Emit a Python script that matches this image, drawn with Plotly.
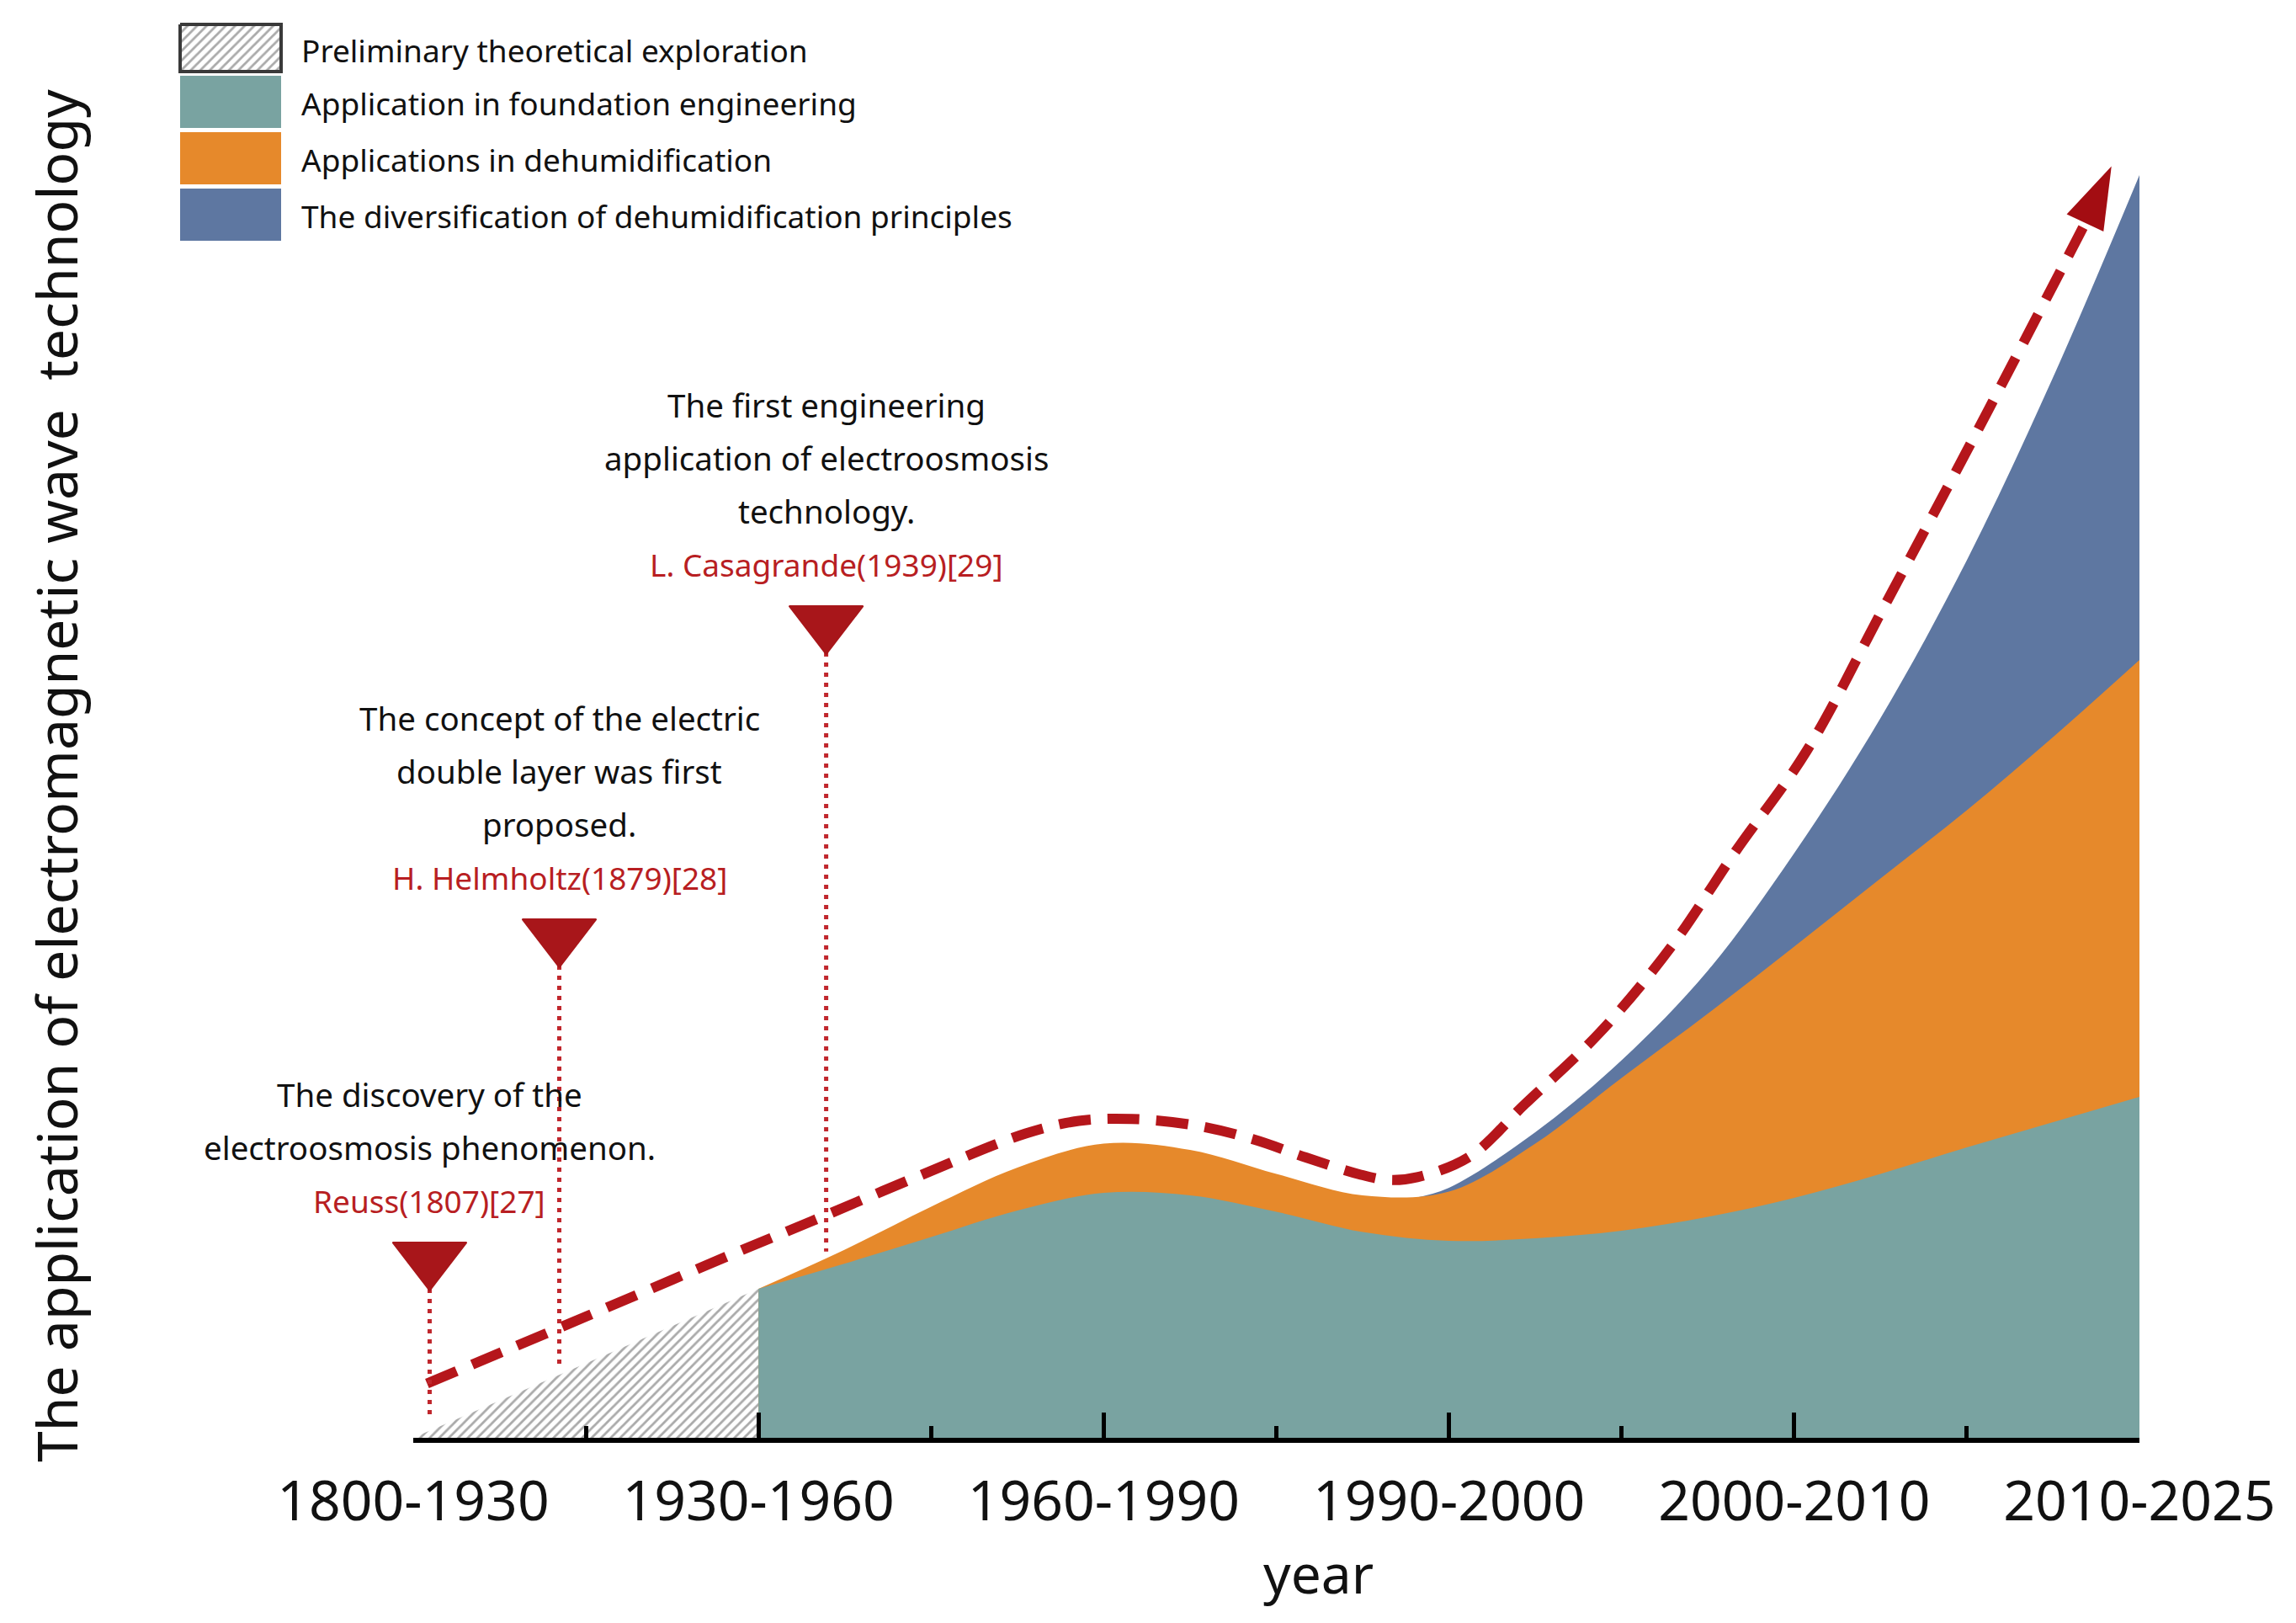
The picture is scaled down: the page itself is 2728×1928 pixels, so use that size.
import plotly.graph_objects as go

W, H = 2728, 1928
OFF = 8                      # browser body margin
FW, FH = W - 2 * OFF, H - 2 * OFF - 2

# ---------------- data ----------------
periods = ["1800-1930", "1930-1960", "1960-1990", "1990-2000", "2000-2010", "2010-2025"]
period_pos = [0, 1, 2, 3, 4, 5]
minor_pos = [0.5, 1.5, 2.5, 3.5, 4.5]

explore_x = [0.0, 1.0]
explore_top = [0.0, 11.8]

layer_x = [1.0, 1.25, 1.5, 1.75, 2.0, 2.25, 2.5, 2.75, 3.0, 3.25, 3.5, 3.75, 4.0, 4.25, 4.5, 4.75, 5.0]
foundation_top = [11.8, 13.8, 15.9, 18.0, 19.4, 19.2, 17.9, 16.3, 15.6, 15.8, 16.4, 17.5, 19.0, 20.9, 23.0, 25.0, 27.0]
dehum_top = [11.8, 14.9, 18.3, 21.4, 23.3, 22.8, 20.9, 19.2, 19.5, 23.3, 28.5, 33.6, 38.9, 44.3, 49.7, 55.5, 61.6]

divers_x = [2.9, 3.0, 3.25, 3.5, 3.75, 4.0, 4.25, 4.5, 4.75, 5.0]
divers_top = [19.0, 19.8, 24.2, 29.9, 37.0, 46.3, 57.0, 69.5, 84.0, 100.0]

trend_x = [0.04, 0.5, 0.962, 1.158, 1.466, 1.774, 1.928, 2.082, 2.264, 2.432, 2.586, 2.74, 2.824,
           2.908, 3.062, 3.219, 3.437, 3.644, 3.829, 4.036, 4.258, 4.569, 4.843]
trend_y = [4.3, 9.6, 14.98, 17.2, 20.75, 24.1, 25.1, 25.25, 24.75, 23.65, 22.2, 20.87, 20.42,
           20.64, 22.31, 26.4, 32.1, 38.9, 46.4, 54.4, 65.7, 81.75, 96.2]
arrow_tip_x = [4.919]
arrow_tip_y = [100.7]

event_x = [0.0475, 0.423, 1.196]
event_marker_y = [14.2, 39.8, 64.6]
event_stem_end = [1.4, 5.7, 14.75]
event_desc = [
    ["The discovery of the", "electroosmosis phenomenon."],
    ["The concept of the electric", "double layer was first", "proposed."],
    ["The first engineering", "application of electroosmosis", "technology."],
]
event_ref = ["Reuss(1807)[27]", "H. Helmholtz(1879)[28]", "L. Casagrande(1939)[29]"]

legend_names = [
    "Preliminary theoretical exploration",
    "Application in foundation engineering",
    "Applications in dehumidification",
    "The diversification of dehumidification principles",
]

# ---------------- style ----------------
TEAL = "#79A3A1"
ORANGE = "#E6892B"
BLUE = "#5E77A1"
RED_LINE = "#B5161B"
RED_MARK = "#A8161A"
RED_TXT = "#B81E22"
TXT = "#111111"
FONT = "Noto Sans"
HATCH = dict(shape="/", fgcolor="#555555", bgcolor="white", size=8, solidity=0.35)


def px(X):
    return (X - OFF) / FW


def py(Y):
    return 1 - (Y - OFF) / FH


AX_X0, AX_X5, AX_Y0, UNIT_Y = 491, 2542, 1708, 15.0
x_dom = [px(AX_X0), px(AX_X5)]
y_dom = [py(AX_Y0), 1.0]
y_max = (AX_Y0 - OFF) / UNIT_Y

fig = go.Figure()

fig.add_trace(go.Scatter(
    x=explore_x, y=explore_top, mode="lines", fill="tozeroy",
    line=dict(width=0, color="rgba(0,0,0,0)"), fillcolor="white", fillpattern=HATCH,
    showlegend=False, hoverinfo="skip",
))
fig.add_trace(go.Scatter(
    x=divers_x, y=divers_top, mode="lines", fill="tozeroy",
    line=dict(width=0, shape="spline", smoothing=1, color=BLUE), fillcolor=BLUE,
    showlegend=False, hoverinfo="skip",
))
fig.add_trace(go.Scatter(
    x=layer_x, y=dehum_top, mode="lines", fill="tozeroy",
    line=dict(width=0, shape="spline", smoothing=1, color=ORANGE), fillcolor=ORANGE,
    showlegend=False, hoverinfo="skip",
))
fig.add_trace(go.Scatter(
    x=layer_x, y=foundation_top, mode="lines", fill="tozeroy",
    line=dict(width=0, shape="spline", smoothing=1, color=TEAL), fillcolor=TEAL,
    showlegend=False, hoverinfo="skip",
))

# trend dashed line + arrow head
fig.add_trace(go.Scatter(
    x=trend_x, y=trend_y, mode="lines",
    line=dict(width=12, color=RED_LINE, dash="38px,20px", shape="spline", smoothing=1),
    showlegend=False, hoverinfo="skip", cliponaxis=False,
))
fig.add_trace(go.Scatter(
    x=arrow_tip_x, y=arrow_tip_y, mode="markers",
    marker=dict(symbol="arrow", size=78, angle=25, color="#A30D12", line=dict(width=0)),
    showlegend=False, hoverinfo="skip", cliponaxis=False,
))

# event stems (dotted) and markers
stem_x, stem_y = [], []
for ex, ey, ee in zip(event_x, event_marker_y, event_stem_end):
    stem_x += [ex, ex, None]
    stem_y += [ey, ee, None]
fig.add_trace(go.Scatter(
    x=stem_x, y=stem_y, mode="lines",
    line=dict(width=5, color="#C0272D", dash="5px,7px"),
    showlegend=False, hoverinfo="skip", cliponaxis=False,
))
fig.add_trace(go.Scatter(
    x=event_x, y=event_marker_y, mode="markers",
    marker=dict(symbol="triangle-down", size=76, color=RED_MARK, line=dict(width=2, color=RED_MARK)),
    showlegend=False, hoverinfo="skip", cliponaxis=False,
))

annotations = []
for ex, ey, desc, ref in zip(event_x, event_marker_y, event_desc, event_ref):
    base = 69
    annotations.append(dict(
        x=ex, y=ey, xref="x", yref="y", yshift=base, text=ref, showarrow=False,
        xanchor="center", yanchor="middle", font=dict(family=FONT, size=37, color=RED_TXT),
    ))
    n = len(desc)
    for i, line in enumerate(desc):
        annotations.append(dict(
            x=ex, y=ey, xref="x", yref="y", yshift=base + 63 * (n - i), text=line,
            showarrow=False, xanchor="center", yanchor="middle",
            font=dict(family=FONT, size=38.5, color=TXT),
        ))

# legend, drawn on a pixel overlay axis
sw_x0, sw_x1 = 214, 334
sw_rows = [(29, 85), (90, 152), (157, 219), (224, 286)]
sw_fill = [None, TEAL, ORANGE, BLUE]
for i, ((y0, y1), col) in enumerate(zip(sw_rows, sw_fill)):
    kw = dict(
        x=[sw_x0, sw_x1, sw_x1, sw_x0, sw_x0], y=[y0, y0, y1, y1, y0],
        mode="lines", fill="toself", xaxis="x2", yaxis="y2",
        showlegend=False, hoverinfo="skip",
    )
    if col is None:
        kw.update(fillcolor="white", fillpattern=HATCH, line=dict(color="#3a3a3a", width=4))
    else:
        kw.update(fillcolor=col, line=dict(color=col, width=0))
    fig.add_trace(go.Scatter(**kw))
    annotations.append(dict(
        x=px(356), y=py((y0 + y1) / 2 + 2), xref="paper", yref="paper",
        text=legend_names[i], showarrow=False, xanchor="left", yanchor="middle",
        font=dict(family=FONT, size=37, color=TXT),
    ))

annotations.append(dict(
    x=px(66), y=py(922), xref="paper", yref="paper",
    text="The application of electromagnetic wave\u00a0 technology", textangle=-90,
    showarrow=False, xanchor="center", yanchor="middle",
    font=dict(family=FONT, size=66, color=TXT),
))
annotations.append(dict(
    x=px(1566), y=py(1868), xref="paper", yref="paper", text="year",
    showarrow=False, xanchor="center", yanchor="middle",
    font=dict(family=FONT, size=64, color=TXT),
))

fig.update_layout(
    width=FW, height=FH,
    margin=dict(l=0, r=0, t=0, b=0),
    paper_bgcolor="white", plot_bgcolor="rgba(0,0,0,0)",
    showlegend=False,
    annotations=annotations,
    xaxis=dict(
        domain=x_dom, range=[0, 5], tickmode="array", tickvals=period_pos, ticktext=periods,
        ticks="inside", ticklen=30, tickwidth=5, tickcolor="black",
        minor=dict(tickmode="array", tickvals=minor_pos, ticks="inside", ticklen=14, tickwidth=5, tickcolor="black"),
        showline=True, linewidth=6, linecolor="black",
        showgrid=False, zeroline=False, automargin=False,
        tickfont=dict(family=FONT, size=66, color=TXT), ticklabelstandoff=13,
        fixedrange=True,
    ),
    yaxis=dict(
        domain=y_dom, range=[0, y_max], visible=False, showgrid=False, zeroline=False,
        automargin=False, fixedrange=True,
    ),
    xaxis2=dict(domain=[0, 1], range=[OFF, OFF + FW], anchor="y2", visible=False, fixedrange=True),
    yaxis2=dict(domain=[0, 1], range=[OFF + FH, OFF], anchor="x2", visible=False, fixedrange=True),
)

fig.write_html("out.html")
